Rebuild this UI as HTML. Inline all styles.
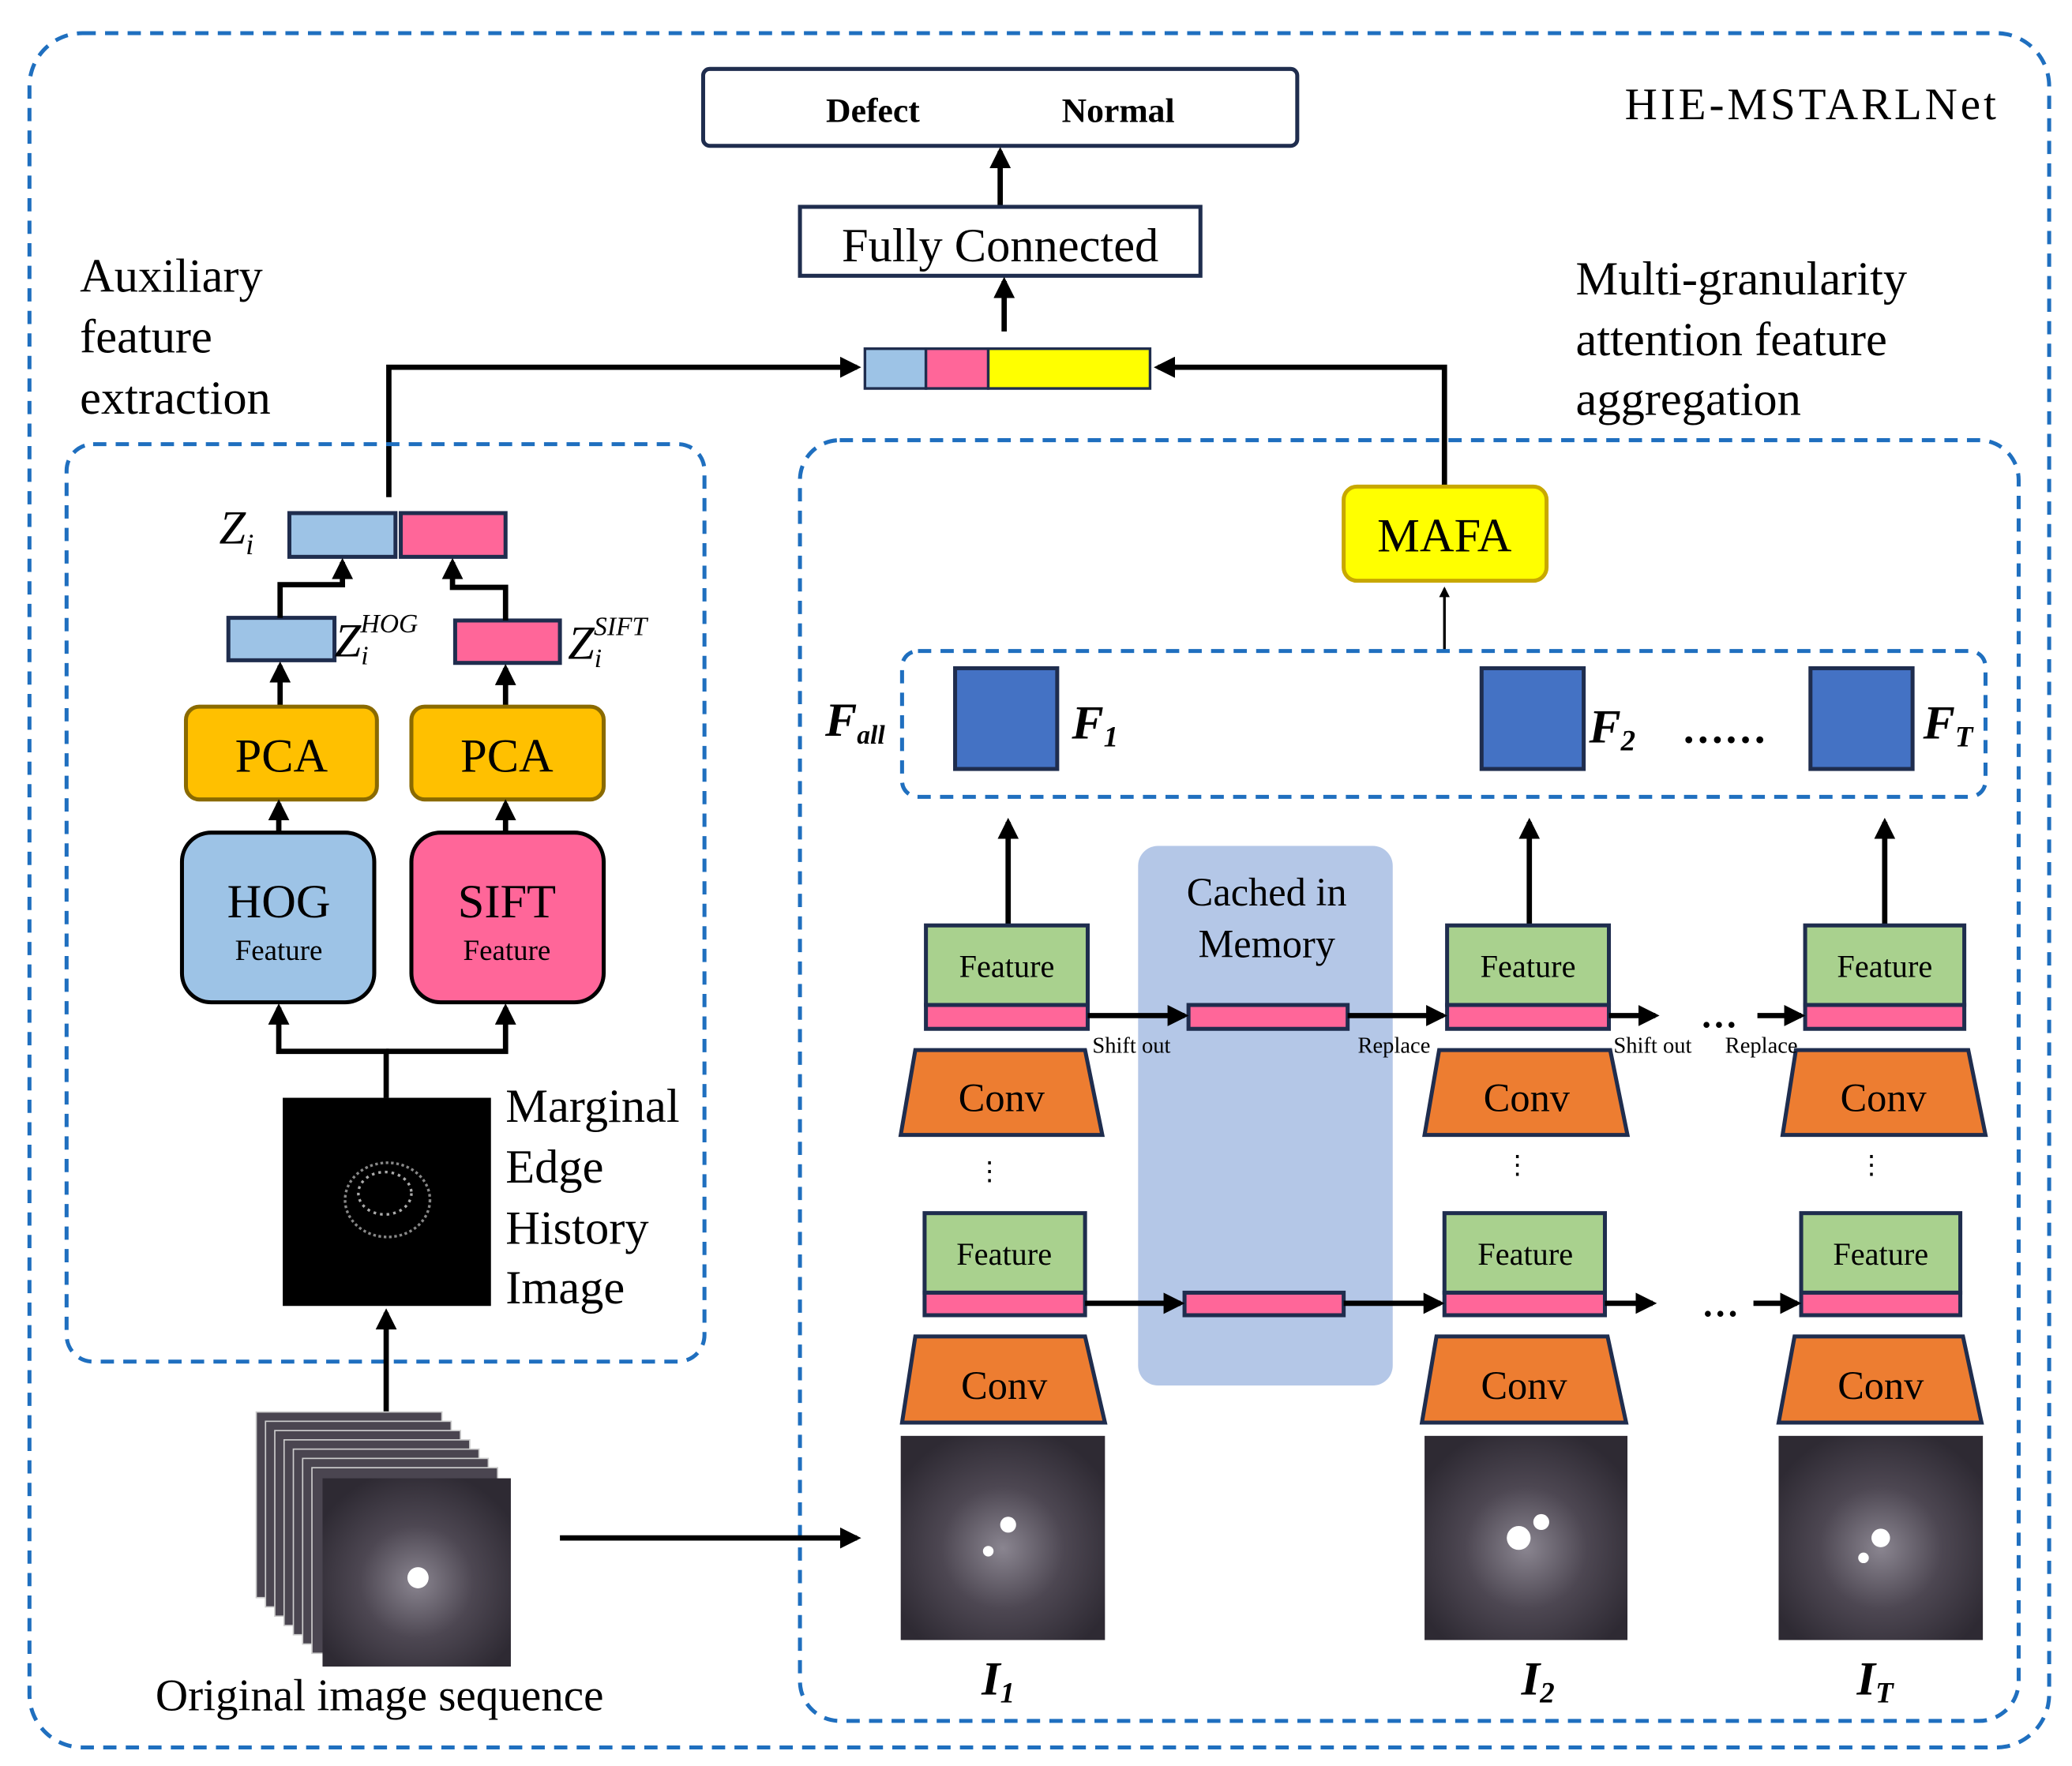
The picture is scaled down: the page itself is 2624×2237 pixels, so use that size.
<!DOCTYPE html>
<html><head><meta charset="utf-8"><style>html,body{margin:0;padding:0;background:#fff}svg{display:block}</style></head>
<body>
<svg width="2624" height="2237" viewBox="0 0 1562 1332" xmlns="http://www.w3.org/2000/svg" font-family="'Liberation Serif', serif">
<defs>
<marker id="a" markerWidth="4" markerHeight="4" refX="3.2" refY="2" orient="auto" markerUnits="strokeWidth"><path d="M0,0 L4,2 L0,4 z" fill="#000"/></marker>
<radialGradient id="img" cx="0.5" cy="0.55" r="0.6"><stop offset="0" stop-color="#8a8590"/><stop offset="0.5" stop-color="#4d4752"/><stop offset="1" stop-color="#2e2a33"/></radialGradient>
</defs>
<rect x="22" y="25" width="1523" height="1293" rx="40" fill="none" stroke="#1f6fbf" stroke-width="3" stroke-dasharray="10,7"/>
<text x="1225" y="90" font-size="34" textLength="280">HIE-MSTARLNet</text>
<rect x="530" y="52" width="448" height="58" rx="5" fill="#fff" stroke="#1f2d4e" stroke-width="3"/>
<text x="658" y="92" font-size="26" font-weight="bold" text-anchor="middle">Defect</text>
<text x="843" y="92" font-size="26" font-weight="bold" text-anchor="middle">Normal</text>
<line x1="754" y1="155" x2="754" y2="114" stroke="#000" stroke-width="4" marker-end="url(#a)"/>
<rect x="603" y="156" width="302" height="52" fill="#fff" stroke="#1f2d4e" stroke-width="3"/>
<text x="754" y="197" font-size="36" text-anchor="middle">Fully Connected</text>
<line x1="757" y1="250" x2="757" y2="212" stroke="#000" stroke-width="4" marker-end="url(#a)"/>
<rect x="652" y="263" width="46" height="30" fill="#9dc3e6" stroke="#1f2d4e" stroke-width="2"/>
<rect x="698" y="263" width="47" height="30" fill="#ff6699" stroke="#1f2d4e" stroke-width="2"/>
<rect x="745" y="263" width="122" height="30" fill="#ffff00" stroke="#1f2d4e" stroke-width="2"/>
<polyline points="293,375 293,277 646,277" fill="none" stroke="#000" stroke-width="4" marker-end="url(#a)"/>
<polyline points="1089,367 1089,277 873,277" fill="none" stroke="#000" stroke-width="4" marker-end="url(#a)"/>
<g font-size="36"><text x="60" y="220">Auxiliary</text><text x="60" y="266">feature</text><text x="60" y="312">extraction</text>
<text x="1188" y="222">Multi-granularity</text><text x="1188" y="268">attention feature</text><text x="1188" y="313">aggregation</text></g>
<rect x="50" y="335" width="481" height="692" rx="20" fill="none" stroke="#1f6fbf" stroke-width="3" stroke-dasharray="10,7"/>
<rect x="603" y="332" width="919" height="966" rx="30" fill="none" stroke="#1f6fbf" stroke-width="3" stroke-dasharray="10,7"/>
<text x="165" y="410" font-size="36" font-style="italic">Z<tspan font-size="22" dy="8">i</tspan></text>
<rect x="218" y="387" width="80" height="33" fill="#9dc3e6" stroke="#1f2d4e" stroke-width="3"/>
<rect x="302" y="387" width="79" height="33" fill="#ff6699" stroke="#1f2d4e" stroke-width="3"/>
<rect x="172" y="466" width="80" height="32" fill="#9dc3e6" stroke="#1f2d4e" stroke-width="3"/>
<rect x="343" y="468" width="79" height="32" fill="#ff6699" stroke="#1f2d4e" stroke-width="3"/>
<text x="252" y="495" font-size="36" font-style="italic">Z<tspan font-size="20" dy="6">i</tspan><tspan font-size="20" dx="-6" dy="-24">HOG</tspan></text>
<text x="428" y="497" font-size="36" font-style="italic">Z<tspan font-size="20" dy="6">i</tspan><tspan font-size="20" dx="-6" dy="-24">SIFT</tspan></text>
<polyline points="211,466 211,441 258,441 258,424" fill="none" stroke="#000" stroke-width="4" marker-end="url(#a)"/>
<polyline points="381,468 381,443 341,443 341,424" fill="none" stroke="#000" stroke-width="4" marker-end="url(#a)"/>
<line x1="211" y1="533" x2="211" y2="502" stroke="#000" stroke-width="4" marker-end="url(#a)"/>
<line x1="381" y1="533" x2="381" y2="504" stroke="#000" stroke-width="4" marker-end="url(#a)"/>
<rect x="140" y="533" width="144" height="70" rx="10" fill="#ffc000" stroke="#8a6a00" stroke-width="3"/>
<rect x="310" y="533" width="145" height="70" rx="10" fill="#ffc000" stroke="#8a6a00" stroke-width="3"/>
<text x="212" y="582" font-size="36" text-anchor="middle">PCA</text>
<text x="382" y="582" font-size="36" text-anchor="middle">PCA</text>
<line x1="210" y1="628" x2="210" y2="606" stroke="#000" stroke-width="4" marker-end="url(#a)"/>
<line x1="381" y1="628" x2="381" y2="606" stroke="#000" stroke-width="4" marker-end="url(#a)"/>
<rect x="137" y="628" width="145" height="128" rx="22" fill="#9dc3e6" stroke="#000" stroke-width="3"/>
<rect x="310" y="628" width="145" height="128" rx="22" fill="#ff6699" stroke="#000" stroke-width="3"/>
<text x="210" y="692" font-size="36" text-anchor="middle">HOG</text><text x="210" y="724" font-size="22" text-anchor="middle">Feature</text>
<text x="382" y="692" font-size="36" text-anchor="middle">SIFT</text><text x="382" y="724" font-size="22" text-anchor="middle">Feature</text>
<polyline points="291,828 291,793 210,793 210,760" fill="none" stroke="#000" stroke-width="4" marker-end="url(#a)"/>
<polyline points="291,793 381,793 381,760" fill="none" stroke="#000" stroke-width="4" marker-end="url(#a)"/>
<rect x="213" y="828" width="157" height="157" fill="#000"/>
<ellipse cx="292" cy="905" rx="32" ry="28" fill="none" stroke="#888" stroke-width="2" stroke-dasharray="2,2"/>
<ellipse cx="290" cy="900" rx="20" ry="16" fill="none" stroke="#aaa" stroke-width="2" stroke-dasharray="2,3"/>
<g font-size="36"><text x="381" y="846">Marginal</text><text x="381" y="892">Edge</text><text x="381" y="938">History</text><text x="381" y="983">Image</text></g>
<line x1="291" y1="1065" x2="291" y2="990" stroke="#000" stroke-width="4" marker-end="url(#a)"/>
<g stroke="#ccc" stroke-width="1" fill="#4a4550">
<rect x="193" y="1065" width="140" height="140"/><rect x="200" y="1072" width="140" height="140"/><rect x="207" y="1079" width="140" height="140"/><rect x="214" y="1086" width="140" height="140"/><rect x="221" y="1093" width="140" height="140"/><rect x="228" y="1100" width="140" height="140"/><rect x="235" y="1107" width="140" height="140"/></g>
<rect x="243" y="1115" width="142" height="142" fill="url(#img)"/>
<circle cx="315" cy="1190" r="8" fill="#fff"/>
<text x="286" y="1290" font-size="34" text-anchor="middle">Original image sequence</text>
<line x1="422" y1="1160" x2="646" y2="1160" stroke="#000" stroke-width="4" marker-end="url(#a)"/>
<rect x="1013" y="367" width="153" height="71" rx="10" fill="#ffff00" stroke="#c8a800" stroke-width="3"/>
<text x="1089" y="416" font-size="36" text-anchor="middle">MAFA</text>
<line x1="1089" y1="490" x2="1089" y2="444" stroke="#000" stroke-width="2" marker-end="url(#a)"/>
<rect x="680" y="491" width="817" height="110" rx="12" fill="none" stroke="#1f6fbf" stroke-width="3" stroke-dasharray="10,7"/>
<g fill="#4472c4" stroke="#1f2d4e" stroke-width="3"><rect x="720" y="504" width="77" height="76"/><rect x="1117" y="504" width="77" height="76"/><rect x="1365" y="504" width="77" height="76"/></g>
<g font-size="36" font-style="italic" font-weight="bold">
<text x="622" y="555">F<tspan font-size="20" dy="6">all</tspan></text>
<text x="808" y="557">F<tspan font-size="22" dy="6">1</tspan></text>
<text x="1198" y="560">F<tspan font-size="22" dy="6">2</tspan></text>
<text x="1450" y="557">F<tspan font-size="22" dy="6">T</tspan></text></g>
<text x="1300" y="560" font-size="32" font-weight="bold" text-anchor="middle">……</text>
<g stroke="#000" stroke-width="4">
<line x1="760" y1="697" x2="760" y2="620" marker-end="url(#a)"/>
<line x1="1153" y1="697" x2="1153" y2="620" marker-end="url(#a)"/>
<line x1="1421" y1="697" x2="1421" y2="620" marker-end="url(#a)"/></g>
<rect x="858" y="638" width="192" height="407" rx="15" fill="#b4c7e7"/>
<text x="955" y="683" font-size="30" text-anchor="middle">Cached in</text><text x="955" y="722" font-size="30" text-anchor="middle">Memory</text>
<g stroke="#1f2d4e" stroke-width="3">
<g fill="#a9d18e"><rect x="698" y="698" width="122" height="60"/><rect x="1091" y="698" width="122" height="60"/><rect x="1361" y="698" width="120" height="60"/>
<rect x="697" y="915" width="121" height="60"/><rect x="1089" y="915" width="121" height="60"/><rect x="1358" y="915" width="120" height="60"/></g>
<g fill="#ff6699"><rect x="698" y="758" width="122" height="18"/><rect x="1091" y="758" width="122" height="18"/><rect x="1361" y="758" width="120" height="18"/>
<rect x="697" y="975" width="121" height="17"/><rect x="1089" y="975" width="121" height="17"/><rect x="1358" y="975" width="120" height="17"/>
<rect x="896" y="758" width="120" height="18"/><rect x="893" y="975" width="120" height="17"/></g>
<g fill="#ed7d31"><polygon points="690,792 818,792 831,856 679,856"/><polygon points="1085,792 1214,792 1227,856 1074,856"/><polygon points="1354,792 1484,792 1497,856 1344,856"/>
<polygon points="690,1008 818,1008 833,1073 680,1073"/><polygon points="1083,1008 1212,1008 1226,1073 1072,1073"/><polygon points="1353,1008 1480,1008 1494,1073 1341,1073"/></g></g>
<g font-size="24" text-anchor="middle"><text x="759" y="737">Feature</text><text x="1152" y="737">Feature</text><text x="1421" y="737">Feature</text>
<text x="757" y="954">Feature</text><text x="1150" y="954">Feature</text><text x="1418" y="954">Feature</text></g>
<g font-size="30" text-anchor="middle"><text x="755" y="838">Conv</text><text x="1151" y="838">Conv</text><text x="1420" y="838">Conv</text>
<text x="757" y="1055">Conv</text><text x="1149" y="1055">Conv</text><text x="1418" y="1055">Conv</text></g>
<g stroke="#000" stroke-width="4">
<line x1="820" y1="766" x2="893" y2="766" marker-end="url(#a)"/><line x1="1016" y1="766" x2="1088" y2="766" marker-end="url(#a)"/>
<line x1="1213" y1="766" x2="1248" y2="766" marker-end="url(#a)"/><line x1="1325" y1="766" x2="1358" y2="766" marker-end="url(#a)"/>
<line x1="818" y1="983" x2="890" y2="983" marker-end="url(#a)"/><line x1="1013" y1="983" x2="1086" y2="983" marker-end="url(#a)"/>
<line x1="1210" y1="983" x2="1246" y2="983" marker-end="url(#a)"/><line x1="1322" y1="983" x2="1355" y2="983" marker-end="url(#a)"/></g>
<text x="1296" y="775" font-size="28" font-weight="bold" text-anchor="middle">…</text>
<text x="1297" y="993" font-size="28" font-weight="bold" text-anchor="middle">…</text>
<g font-size="17" text-anchor="middle"><text x="853" y="794">Shift out</text><text x="1051" y="794">Replace</text><text x="1246" y="794">Shift out</text><text x="1328" y="794">Replace</text></g>
<g font-size="20" text-anchor="middle"><text x="746" y="890">⋮</text><text x="1144" y="885">⋮</text><text x="1411" y="885">⋮</text></g>
<rect x="679" y="1083" width="154" height="154" fill="url(#img)"/>
<rect x="1074" y="1083" width="153" height="154" fill="url(#img)"/>
<rect x="1341" y="1083" width="154" height="154" fill="url(#img)"/>
<g fill="#fff"><circle cx="760" cy="1150" r="6"/><circle cx="745" cy="1170" r="4"/><circle cx="1145" cy="1160" r="9"/><circle cx="1162" cy="1148" r="6"/><circle cx="1418" cy="1160" r="7"/><circle cx="1405" cy="1175" r="4"/></g>
<g font-size="36" font-style="italic" font-weight="bold">
<text x="740" y="1278">I<tspan font-size="22" dy="6">1</tspan></text>
<text x="1147" y="1278">I<tspan font-size="22" dy="6">2</tspan></text>
<text x="1400" y="1278">I<tspan font-size="22" dy="6">T</tspan></text></g>
</svg>
</body></html>
